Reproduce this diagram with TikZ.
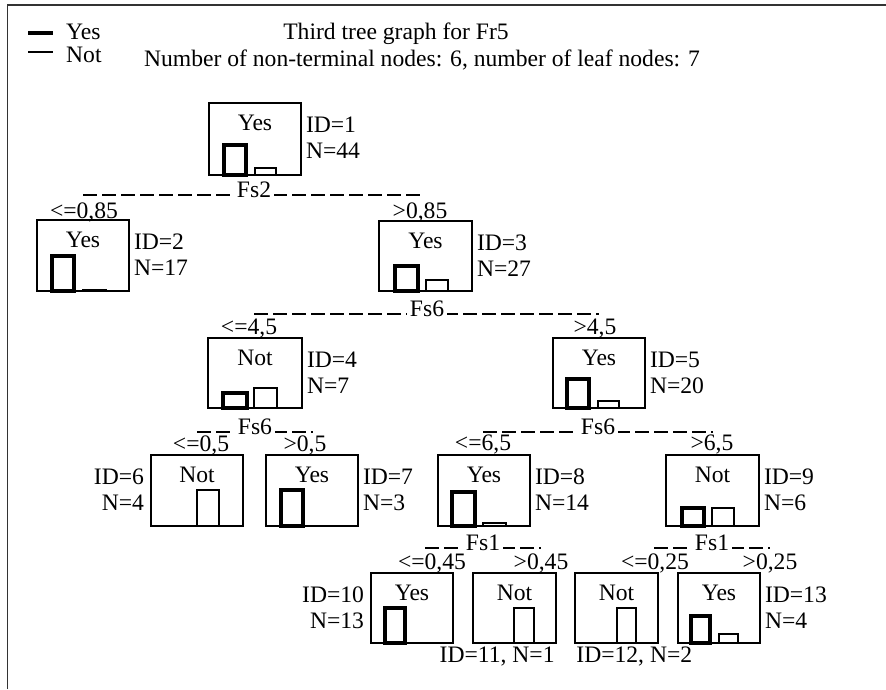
\documentclass[tikz,border=0pt]{standalone}
\usepackage{fontspec}
\setmainfont{Liberation Serif}
\usetikzlibrary{calc}
\begin{document}
\begin{tikzpicture}[x=1pt,y=-1pt,
  txt/.style={font=\fontsize{23.6}{28}\selectfont, inner sep=0pt},
  tbox/.style={draw, line width=1.6pt, inner sep=0pt},
  thickbar/.style={draw, line width=3.2pt},
  thinbar/.style={draw, line width=1.4pt},
  splitline/.style={line width=1.5pt, dash pattern=on 14pt off 5pt},
  splitlbl/.style={txt, fill=white, inner xsep=2.5pt, inner ysep=2pt, anchor=base},
  condlbl/.style={txt, anchor=base},
  idlbl/.style={txt, anchor=base west},
  idlblleft/.style={txt, anchor=base east},
  framestyle/.style={line width=1.6pt, black!80}
]
\useasboundingbox (0,0) rectangle (886,689);
\newcommand\TNode[6]{%
  \node[tbox, minimum width={#4-#2}, minimum height={#5-#3}] (#1) at ({(#2+#4)/2},{(#3+#5)/2}) {};
  \node[txt, anchor=base] (#1t) at ($(#1.north)+(0,28)$) {#6};
}
\newcommand\RLabels[3]{%
  \node[idlbl] (#1id) at ($(#1.north east)+(4,30)$) {#2};
  \node[idlbl] (#1n) at ($(#1.north east)+(4,56)$) {#3};
}
\newcommand\LLabels[3]{%
  \node[idlblleft] (#1id) at ($(#1.north west)+(-6,30)$) {#2};
  \node[idlblleft] (#1n) at ($(#1.north west)+(-6,56)$) {#3};
}
% frame
\coordinate (fr1) at (7.5,689);
\coordinate (fr2) at (7.5,5);
\coordinate (fr3) at (886,5);
\draw[framestyle] (fr1) -- (fr2) -- (fr3);
% legend
\coordinate (lg1a) at (28,33); \coordinate (lg1b) at (53,33);
\coordinate (lg2a) at (28,52); \coordinate (lg2b) at (53,52);
\draw[line width=3.2pt] (lg1a) -- (lg1b);
\draw[line width=1.4pt] (lg2a) -- (lg2b);
\node[idlbl] (lgyes) at (66,39) {Yes};
\node[idlbl] (lgnot) at (66,62) {Not};
% titles
\node[txt, anchor=base] (title1) at (396,39) {Third tree graph for Fr5};
\node[txt, anchor=base] (title2) at (422,66) {Number of non-terminal nodes: 6, number of leaf nodes: 7};

% nodes
\TNode{n1}{209}{103}{301}{175}{Yes}
\TNode{n2}{37}{220}{129}{291}{Yes}
\TNode{n3}{379}{221}{472}{291}{Yes}
\TNode{n4}{208}{338}{302}{408}{Not}
\TNode{n5}{553}{338}{645}{408}{Yes}
\TNode{n6}{151}{455}{243}{526}{Not}
\TNode{n7}{266}{455}{358}{526}{Yes}
\TNode{n8}{438}{455}{530}{526}{Yes}
\TNode{n9}{666}{455}{759}{526}{Not}
\TNode{n10}{371}{573}{453}{643}{Yes}
\TNode{n11}{473}{573}{556}{643}{Not}
\TNode{n12}{575}{573}{658}{643}{Not}
\TNode{n13}{678}{573}{760}{643}{Yes}

% bars
\draw[thickbar] (224,145) rectangle (246,175);
\draw[thinbar]  (255,168) rectangle (276,175);
\draw[thickbar] (52,256) rectangle (74,291);
\draw[thinbar]  (83,290) rectangle (106,291);
\draw[thickbar] (395,266) rectangle (418,291);
\draw[thinbar]  (426,280) rectangle (448,291);
\draw[thickbar] (223,393) rectangle (247,408);
\draw[thinbar]  (254,388) rectangle (277,408);
\draw[thickbar] (567,379) rectangle (589,408);
\draw[thinbar]  (598,401) rectangle (619,408);
\draw[thinbar]  (197,490) rectangle (219,526);
\draw[thickbar] (281,490) rectangle (303,526);
\draw[thickbar] (452,492) rectangle (475,526);
\draw[thinbar]  (483,523) rectangle (506,526);
\draw[thickbar] (682,508) rectangle (704,526);
\draw[thinbar]  (712,508) rectangle (734,526);
\draw[thickbar] (385,608) rectangle (405,643);
\draw[thinbar]  (514,608) rectangle (534,643);
\draw[thinbar]  (617,608) rectangle (636,643);
\draw[thickbar] (691,616) rectangle (710,643);
\draw[thinbar]  (719,634) rectangle (738,643);

% ID / N labels
\RLabels{n1}{ID=1}{N=44}
\RLabels{n2}{ID=2}{N=17}
\RLabels{n3}{ID=3}{N=27}
\RLabels{n4}{ID=4}{N=7}
\RLabels{n5}{ID=5}{N=20}
\LLabels{n6}{ID=6}{N=4}
\RLabels{n7}{ID=7}{N=3}
\RLabels{n8}{ID=8}{N=14}
\RLabels{n9}{ID=9}{N=6}
\LLabels{n10}{ID=10}{N=13}
\RLabels{n13}{ID=13}{N=4}
\node[txt, anchor=base east] (n11id) at ($(n11.south east)+(-2,19)$) {ID=11, N=1};
\node[txt, anchor=base west] (n12id) at ($(n12.south west)+(2,19)$) {ID=12, N=2};

% split lines
\coordinate (s1l) at (83,195);  \coordinate (s1r) at (425,195);
\coordinate (s3l) at (254,314); \coordinate (s3r) at (599,314);
\coordinate (s4l) at (197,432); \coordinate (s4r) at (313,432);
\coordinate (s5l) at (483,432); \coordinate (s5r) at (713,432);
\coordinate (s8l) at (425,548); \coordinate (s8r) at (541,548);
\coordinate (s9l) at (654,548); \coordinate (s9r) at (770,548);
\draw[splitline] (s1l) -- (s1r);
\draw[splitline] (s3l) -- (s3r);
\draw[splitline] (s4l) -- (s4r);
\draw[splitline] (s5l) -- (s5r);
\draw[splitline] (s8l) -- (s8r);
\draw[splitline] (s9l) -- (s9r);
\node[splitlbl] (f1) at (254,197) {Fs2};
\node[splitlbl] (f3) at (427,316) {Fs6};
\node[splitlbl] (f4) at (255,434) {Fs6};
\node[splitlbl] (f5) at (598,434) {Fs6};
\node[splitlbl] (f8) at (483,550) {Fs1};
\node[splitlbl] (f9) at (712,550) {Fs1};

% condition labels
\node[condlbl] (c2) at (84,218) {<=0,85};
\node[condlbl] (c3) at (420,218) {>0,85};
\node[condlbl] (c4) at (249,334) {<=4,5};
\node[condlbl] (c5) at (595,334) {>4,5};
\node[condlbl] (c6) at (201,451) {<=0,5};
\node[condlbl] (c7) at (305,451) {>0,5};
\node[condlbl] (c8) at (483,450) {<=6,5};
\node[condlbl] (c9) at (712,450) {>6,5};
\node[condlbl] (c10) at (432,569) {<=0,45};
\node[condlbl] (c11) at (541,569) {>0,45};
\node[condlbl] (c12) at (655,569) {<=0,25};
\node[condlbl] (c13) at (770,569) {>0,25};
\end{tikzpicture}
\end{document}
